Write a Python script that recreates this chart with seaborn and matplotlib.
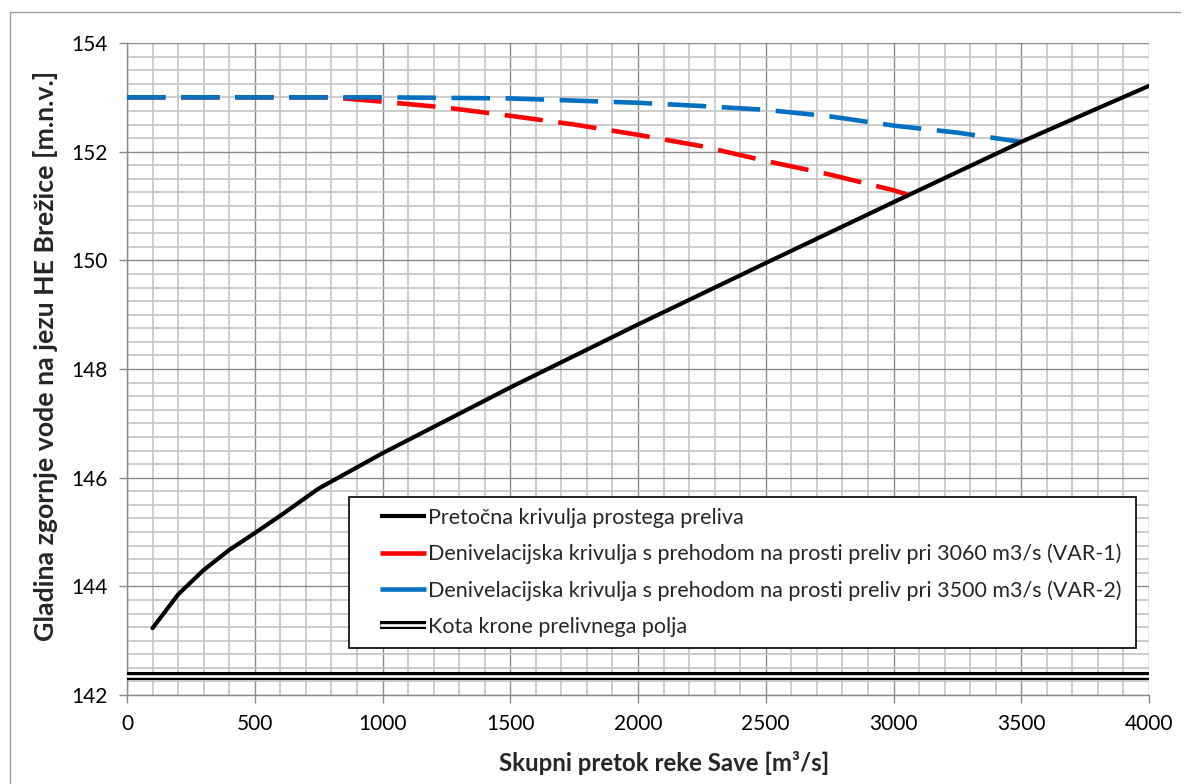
import numpy as np
import pandas as pd
import matplotlib
matplotlib.use("Agg")
import matplotlib.pyplot as plt
from matplotlib.lines import Line2D
from matplotlib.legend_handler import HandlerBase
from matplotlib.ticker import MultipleLocator
import seaborn as sns

# ---- data ----
q_free = [100, 200, 300, 400, 500, 600, 750, 1000, 1500, 2000, 2500, 3000, 3500, 3800, 4000]
h_free = [143.23, 143.85, 144.30, 144.67, 144.98, 145.30, 145.80, 146.45, 147.66, 148.82, 149.95, 151.07, 152.18, 152.80, 153.21]

q_var1 = [0, 800, 1000, 1250, 1500, 1750, 2000, 2250, 2500, 2750, 3000, 3060]
h_var1 = [153.0, 153.0, 152.92, 152.81, 152.66, 152.50, 152.31, 152.10, 151.83, 151.58, 151.29, 151.20]

q_var2 = [0, 1000, 1500, 2000, 2250, 2500, 2750, 3000, 3250, 3500]
h_var2 = [153.0, 153.0, 152.98, 152.90, 152.84, 152.77, 152.65, 152.48, 152.35, 152.18]

crest_level = 142.35
x_range = [0, 4000]

labels = [
    "Pretočna krivulja prostega preliva",
    "Denivelacijska krivulja s prehodom na prosti preliv pri 3060 m3/s (VAR-1)",
    "Denivelacijska krivulja s prehodom na prosti preliv pri 3500 m3/s (VAR-2)",
    "Kota krone prelivnega polja",
]
x_label = "Skupni pretok reke Save [m³/s]"
y_label = "Gladina zgornje vode na jezu HE Brežice [m.n.v.]"

# ---- style ----
sns.set_theme(style="white")
plt.rcParams["font.family"] = ["Lato", "DejaVu Sans"]

fig = plt.figure(figsize=(11.93, 7.84), dpi=100)
W, H = 1193, 784
ax = fig.add_axes([127 / W, 1 - 695 / H, (1149 - 127) / W, (695 - 43) / H])

# outer chart frame (partially visible)
fig.add_artist(Line2D([10 / W, 10 / W], [0, 1 - 12 / H], transform=fig.transFigure,
                      color="#9a9a9a", lw=1.0))
fig.add_artist(Line2D([10 / W, 1180 / W], [1 - 12 / H, 1 - 12 / H], transform=fig.transFigure,
                      color="#9a9a9a", lw=1.0))

ax.set_xlim(0, 4000)
ax.set_ylim(142, 154)
ax.xaxis.set_major_locator(MultipleLocator(500))
ax.xaxis.set_minor_locator(MultipleLocator(100))
ax.yaxis.set_major_locator(MultipleLocator(2))
ax.yaxis.set_minor_locator(MultipleLocator(0.25))
ax.grid(which="minor", color="#c4c4c4", lw=1.2, zorder=0)
ax.grid(which="major", color="#8a8a8a", lw=1.0, zorder=0)
ax.set_axisbelow(True)

for s in ["top", "right"]:
    ax.spines[s].set_visible(False)
for s in ["left", "bottom"]:
    ax.spines[s].set_color("#8a8a8a")
    ax.spines[s].set_linewidth(1.0)

ax.tick_params(axis="both", which="major", direction="out", length=6, width=1,
               color="#8a8a8a", labelsize=15, labelcolor="black", pad=8,
               left=True, bottom=True)
ax.tick_params(axis="both", which="minor", length=0)

# crest double line
df_crest = pd.DataFrame({"q": x_range, "h": [crest_level, crest_level]})
sns.lineplot(data=df_crest, x="q", y="h", ax=ax, color="black", lw=5.8, zorder=3)
sns.lineplot(data=df_crest, x="q", y="h", ax=ax, color="white", lw=1.9, zorder=3.1)

df_free = pd.DataFrame({"q": q_free, "h": h_free})
df_v1 = pd.DataFrame({"q": q_var1, "h": h_var1})
df_v2 = pd.DataFrame({"q": q_var2, "h": h_var2})

dash = (0, (8.4, 3.4))
sns.lineplot(data=df_v1, x="q", y="h", ax=ax, color="#FF0000", lw=3.3,
             linestyle=dash, zorder=4)
sns.lineplot(data=df_v2, x="q", y="h", ax=ax, color="#0070C0", lw=3.3,
             linestyle=dash, zorder=4.1)
sns.lineplot(data=df_free, x="q", y="h", ax=ax, color="black", lw=3.0, zorder=5)

ax.set_xlabel(x_label, fontsize=17.3, fontweight="bold")
ax.set_ylabel(y_label, fontsize=19.3, fontweight="bold")
ax.xaxis.set_label_coords(0.526, -0.086)
ax.yaxis.set_label_coords(-0.068, 0.52)


class RightLineHandler(HandlerBase):
    """Draw legend line(s) only over the right part of the handle box."""
    def __init__(self, frac=0.67, **kw):
        super().__init__(**kw)
        self.frac = frac

    def create_artists(self, legend, orig_handle, xdescent, ydescent, width,
                       height, fontsize, trans):
        handles = orig_handle if isinstance(orig_handle, tuple) else (orig_handle,)
        x1 = -xdescent + width
        x0 = x1 - width * self.frac
        y = -ydescent + height / 2
        arts = []
        for h in handles:
            ln = Line2D([x0, x1], [y, y], color=h.get_color(), lw=h.get_linewidth(),
                        solid_capstyle="butt")
            ln.set_transform(trans)
            arts.append(ln)
        return arts


h1 = Line2D([], [], color="black", lw=3.0)
h2 = Line2D([], [], color="#FF0000", lw=3.3)
h3 = Line2D([], [], color="#0070C0", lw=3.3)
h4 = (Line2D([], [], color="black", lw=5.8), Line2D([], [], color="white", lw=1.9))
hnd = RightLineHandler(frac=0.70)
leg = ax.legend([h1, h2, h3, h4], labels,
                handler_map={Line2D: hnd, tuple: hnd},
                loc="lower left", bbox_to_anchor=(0.2172, 0.0722, 0.7700, 0.2315),
                mode="expand", borderaxespad=0,
                fontsize=15.5, frameon=True, fancybox=False, framealpha=1,
                edgecolor="black", handlelength=3.05, handletextpad=0.1,
                labelspacing=0.74, borderpad=0.52)
leg.get_frame().set_linewidth(1.2)
leg.set_zorder(10)

fig.savefig("out.png", dpi=100)
